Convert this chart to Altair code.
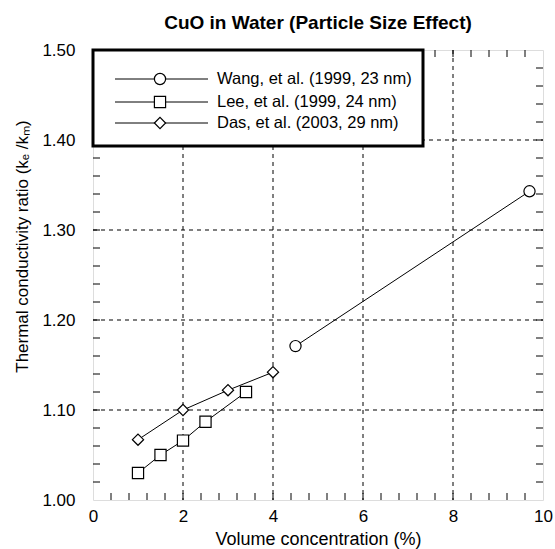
import altair as alt
import pandas as pd

# ---------------- data ----------------
series_names = ["Wang, et al. (1999, 23 nm)", "Lee, et al. (1999, 24 nm)", "Das, et al. (2003, 29 nm)"]
series_shapes = ["circle", "square", "diamond"]

wang_x = [4.5, 9.7]
wang_y = [1.171, 1.343]
lee_x = [1.0, 1.5, 2.0, 2.5, 3.4]
lee_y = [1.030, 1.050, 1.066, 1.087, 1.120]
das_x = [1.0, 2.0, 3.0, 4.0]
das_y = [1.067, 1.100, 1.122, 1.142]

x_labels = [0, 2, 4, 6, 8, 10]
y_labels = [1.00, 1.10, 1.20, 1.30, 1.40, 1.50]
x_grid = [2, 4, 6, 8]
y_grid = [1.10, 1.20, 1.30, 1.40]
x_minor = [0.4, 0.8, 1.2, 1.6, 2.0, 2.4, 2.8, 3.2, 3.6, 4.0, 4.4, 4.8,
           5.2, 5.6, 6.0, 6.4, 6.8, 7.2, 7.6, 8.0, 8.4, 8.8, 9.2, 9.6]
y_minor = [1.02, 1.04, 1.06, 1.08, 1.10, 1.12, 1.14, 1.16, 1.18, 1.20, 1.22, 1.24,
           1.26, 1.28, 1.30, 1.32, 1.34, 1.36, 1.38, 1.40, 1.42, 1.44, 1.46, 1.48]

rows = []
for name, xs, ys in [(series_names[0], wang_x, wang_y),
                     (series_names[1], lee_x, lee_y),
                     (series_names[2], das_x, das_y)]:
    for xv, yv in zip(xs, ys):
        rows.append({"series": name, "x": xv, "y": yv})
df = pd.DataFrame(rows)

FONT = "Liberation Sans"
FS = 17
W, H = 450, 450

xscale = alt.Scale(domain=[0, 10], nice=False, zero=False)
yscale = alt.Scale(domain=[1.0, 1.5], nice=False, zero=False)

xaxis = alt.Axis(values=x_labels, title="Volume concentration (%)", grid=False, ticks=False,
                 domain=False, labelFontSize=FS, labelPadding=8, labelFont=FONT,
                 labelColor="black", titleFont=FONT, titleFontSize=18, titleFontWeight="normal",
                 titleColor="black", titleY=39, titleBaseline="middle", labelFlush=False)
yaxis = alt.Axis(values=y_labels, format=".2f",
                 title="Thermal conductivity ratio (kₑ /kₘ)", grid=False, ticks=False,
                 domain=False, labelFontSize=FS, labelPadding=18, labelFont=FONT,
                 labelColor="black", titleFont=FONT, titleFontSize=FS, titleFontWeight="normal",
                 titleColor="black", titleX=-71, titleY=196, titleBaseline="middle",
                 labelFlush=False)

shape_scale = alt.Scale(domain=series_names, range=series_shapes)

base = alt.Chart(df)

lines = base.mark_line(color="black", strokeWidth=1).encode(
    x=alt.X("x:Q", scale=xscale, axis=xaxis),
    y=alt.Y("y:Q", scale=yscale, axis=yaxis),
    detail="series:N",
)
points = base.mark_point(filled=True, fill="white", stroke="black", strokeWidth=1.2, size=125,
                         opacity=1).encode(
    x=alt.X("x:Q", scale=xscale),
    y=alt.Y("y:Q", scale=yscale),
    shape=alt.Shape("series:N", scale=shape_scale, legend=None),
)

# grid
xg = alt.Chart(pd.DataFrame({"g": x_grid})).mark_rule(color="black", strokeWidth=1,
                                                        strokeDash=[4, 4]).encode(
    x=alt.X("g:Q", scale=xscale), y=alt.value(0), y2=alt.value(H))
yg = alt.Chart(pd.DataFrame({"g": y_grid})).mark_rule(color="black", strokeWidth=1,
                                                        strokeDash=[4, 4]).encode(
    y=alt.Y("g:Q", scale=yscale), x=alt.value(0), x2=alt.value(W))

# inward ticks on all four sides
TL = 7
xt_df = pd.DataFrame({"t": x_minor})
yt_df = pd.DataFrame({"t": y_minor})
tick_bottom = alt.Chart(xt_df).mark_rule(color="black", strokeWidth=1).encode(
    x=alt.X("t:Q", scale=xscale), y=alt.value(H), y2=alt.value(H - TL))
tick_top = alt.Chart(xt_df).mark_rule(color="black", strokeWidth=1).encode(
    x=alt.X("t:Q", scale=xscale), y=alt.value(0), y2=alt.value(TL))
tick_left = alt.Chart(yt_df).mark_rule(color="black", strokeWidth=1).encode(
    y=alt.Y("t:Q", scale=yscale), x=alt.value(0), x2=alt.value(TL))
tick_right = alt.Chart(yt_df).mark_rule(color="black", strokeWidth=1).encode(
    y=alt.Y("t:Q", scale=yscale), x=alt.value(W), x2=alt.value(W - TL))

# legend (manual box)
one = pd.DataFrame({"a": [0]})
leg_box = alt.Chart(one).mark_rect(fill="white", stroke="black", strokeWidth=3).encode(
    x=alt.value(0), x2=alt.value(330), y=alt.value(0), y2=alt.value(96))
leg_layers = [leg_box]
row_y = [29, 52, 73]
for name, shp, py in zip(series_names, series_shapes, row_y):
    d = pd.DataFrame({"series": [name]})
    leg_layers.append(alt.Chart(d).mark_rule(color="black", strokeWidth=1).encode(
        x=alt.value(22), x2=alt.value(115), y=alt.value(py)))
    leg_layers.append(alt.Chart(d).mark_point(shape=shp, filled=True, fill="white", stroke="black",
                                              strokeWidth=1.2, size=125, opacity=1).encode(
        x=alt.value(67), y=alt.value(py)))
    leg_layers.append(alt.Chart(d).mark_text(align="left", baseline="middle", font=FONT,
                                             fontSize=16.5, color="black").encode(
        x=alt.value(124), y=alt.value(py), text="series:N"))

chart = alt.layer(xg, yg, tick_bottom, tick_top, tick_left, tick_right, lines, points,
                  *leg_layers).properties(
    width=W, height=H,
    title=alt.TitleParams("CuO in Water (Particle Size Effect)", font=FONT, fontSize=19,
                          fontWeight="bold", color="black", anchor="middle", offset=8),
    autosize=alt.AutoSizeParams(type="none"),
    padding={"left": 93, "top": 50, "right": 12, "bottom": 49},
).configure_view(stroke="black", strokeWidth=1.5).configure(background="white")

chart.save("out.html", embed_options={"renderer": "svg", "actions": False})
